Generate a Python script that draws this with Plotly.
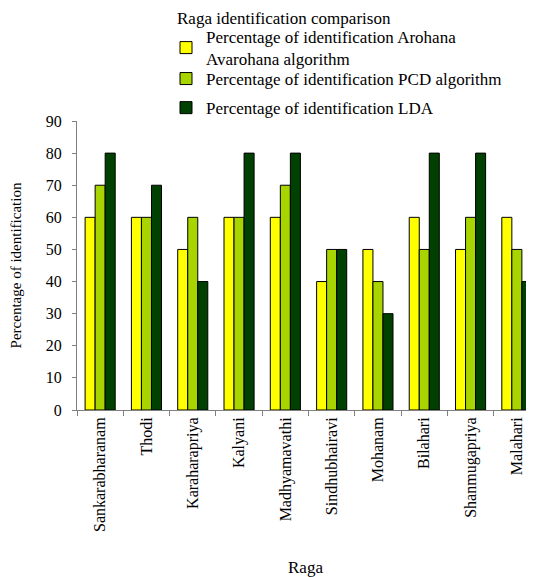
import plotly.graph_objects as go

ragas = ["Sankarabharanam", "Thodi", "Karaharapriya", "Kalyani", "Madhyamavathi",
         "Sindhubhairavi", "Mohanam", "Bilahari", "Shanmugapriya", "Malahari"]
arohana = [60, 60, 50, 60, 60, 40, 50, 60, 50, 60]
pcd = [70, 60, 60, 60, 70, 50, 40, 50, 60, 50]
lda = [80, 70, 40, 80, 80, 50, 30, 80, 80, 40]

series_names = ["Percentage of identification Arohana<br>Avarohana algorithm",
                "Percentage of identification PCD algorithm",
                "Percentage of identification LDA"]
colors = ["#FFFF00", "#A8D400", "#004000"]
legends = ["legend", "legend2", "legend2"]

FONT = "Liberation Serif"
# page body has an 8px margin; figure is sized so the page fits the window
W, H = 526, 569
L, T, B = 69, 113, 167
PW, PH = W - L, H - T - B
BOTTOM = T + PH  # pixel row of the x axis within the figure

fig = go.Figure()
for i, (name, vals, c, lg) in enumerate(zip(series_names, [arohana, pcd, lda], colors, legends)):
    fig.add_trace(go.Bar(x=ragas, y=vals, name=name, legend=lg, legendgroup=f"g{i}",
                         marker=dict(color=c, line=dict(color="black", width=1))))

leg_common = dict(xanchor="left", yanchor="top", font=dict(family=FONT, size=17),
                  bgcolor="rgba(0,0,0,0)", itemwidth=30, tracegroupgap=4)
fig.update_layout(
    width=W, height=H,
    margin=dict(l=L, r=0, t=T, b=B, autoexpand=False),
    paper_bgcolor="white", plot_bgcolor="white",
    barmode="group", bargap=0.35, bargroupgap=0,
    font=dict(family=FONT, size=16, color="black"),
    legend=dict(x=(158 - L) / PW, y=(BOTTOM - 11) / PH, **leg_common),
    legend2=dict(x=(158 - L) / PW, y=(BOTTOM - 53) / PH, **leg_common),
    showlegend=True,
    annotations=[dict(text="Raga identification comparison", xref="paper", yref="paper",
                      x=(168 - L) / PW, y=BOTTOM / PH, xanchor="left", yanchor="top",
                      borderpad=0, showarrow=False, font=dict(family=FONT, size=17))],
)
fig.update_xaxes(
    range=[-0.5, 9.37], tickangle=-90, tickson="boundaries", automargin=False,
    ticks="outside", ticklen=5, tickcolor="#808080",
    showline=True, linecolor="#808080", linewidth=1, showgrid=False,
    tickfont=dict(family=FONT, size=16),
    title=dict(text="Raga", font=dict(family=FONT, size=17), standoff=33),
)
fig.update_yaxes(
    range=[0, 90], dtick=10, ticks="outside", ticklen=4, tickcolor="#808080", automargin=False,
    ticklabelstandoff=7,
    showline=True, linecolor="#808080", linewidth=1, showgrid=False, zeroline=False,
    tickfont=dict(family=FONT, size=16),
    title=dict(text="Percentage of identification", font=dict(family=FONT, size=15), standoff=30),
)
fig.write_html("out.html")
